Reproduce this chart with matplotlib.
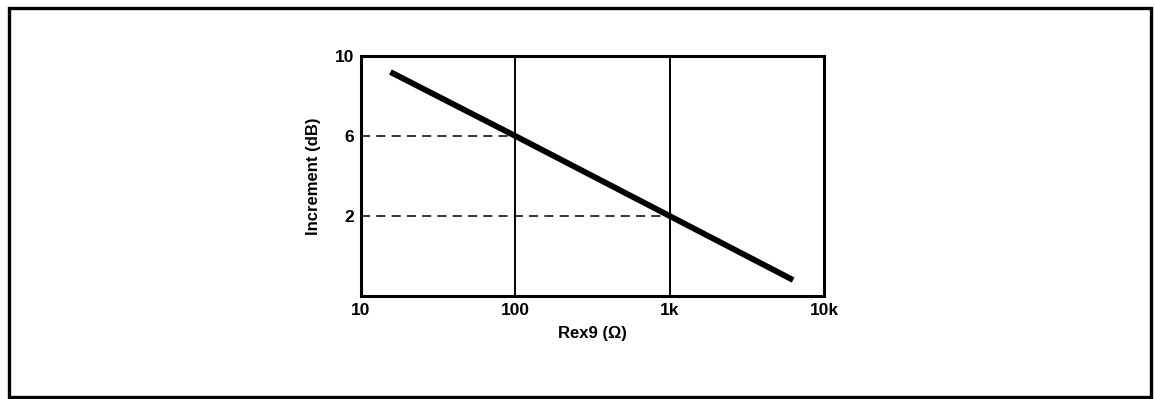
import matplotlib.pyplot as plt
from matplotlib.patches import Rectangle

# Increment vs external resistor Rex9 (straight line on a log axis)
rex9_ohm = [15.5, 100, 1000, 6300]
increment_db = [9.2, 6.0, 2.0, -1.2]

# reference points marked with dashed guides
ref_rex = [100, 1000]
ref_db = [6, 2]

x_ticks = [10, 100, 1000, 10000]
x_labels = ['10', '100', '1k', '10k']
y_ticks = [2, 6, 10]
y_labels = ['2', '6', '10']

plt.rcParams['font.family'] = ['Liberation Sans', 'DejaVu Sans']

fig = plt.figure(figsize=(11.55, 3.99), dpi=100)
ax = fig.add_axes([0.3126, 0.2581, 0.4009, 0.6015])

# outer frame round the whole figure
fig.patches.append(Rectangle((9 / 1155, 2 / 399), 1142 / 1155, 389 / 399,
                             transform=fig.transFigure, fill=False,
                             edgecolor='black', linewidth=2.4))

ax.set_xscale('log')
ax.set_xlim(10, 10000)
ax.set_ylim(-2, 10)

for xv in [100, 1000]:
    ax.axvline(xv, color='black', linewidth=1.4, zorder=1)

for rx, db in zip(ref_rex, ref_db):
    ax.plot([10, rx], [db, db], color='black', linewidth=1.1,
            dashes=(6, 4), zorder=2)

ax.plot(rex9_ohm, increment_db, color='black', linewidth=4.2,
        solid_capstyle='butt', zorder=3)

ax.set_xticks(x_ticks)
ax.set_xticklabels(x_labels)
ax.xaxis.set_minor_locator(plt.NullLocator())
ax.set_yticks(y_ticks)
ax.set_yticklabels(y_labels)
ax.tick_params(length=0, labelsize=12.5, pad=5)
for lbl in ax.get_xticklabels() + ax.get_yticklabels():
    lbl.set_fontweight('bold')

for sp in ax.spines.values():
    sp.set_linewidth(2.2)

ax.set_xlabel('Rex9 (Ω)', fontsize=12, fontweight='bold', labelpad=6)
ax.set_ylabel('Increment (dB)', fontsize=12, fontweight='bold', labelpad=10)

fig.savefig('out.png', dpi=100)
